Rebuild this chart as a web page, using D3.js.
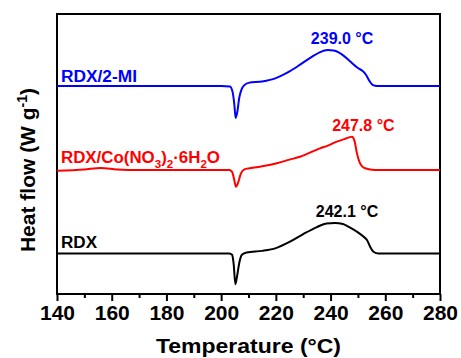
<!DOCTYPE html>
<html>
<head>
<meta charset="utf-8">
<script src="https://cdn.jsdelivr.net/npm/d3@7"></script>
<style>
html,body{margin:0;padding:0;background:#fff;}
svg text{font-family:"Liberation Sans",Arial,Helvetica,sans-serif;font-weight:bold;}
</style>
</head>
<body>
<svg id="chart" width="461" height="358"></svg>
<script>
// ---- data (temperature °C, heat flow in arbitrary offset units) ----
const tempTicks = [140,160,180,200,220,240,260,280];

const blueT = [140,170,200,203.2,204.2,204.8,205.3,205.9,206.6,207.5,208.5,210,215,220,225,229,233,236,239,241,244,247,250,251.9,253,254.2,255.5,257,265,280];
const blueH = [7.43,7.43,7.43,7.41,7.21,6.79,6.29,6.50,7.00,7.32,7.46,7.54,7.59,7.71,7.95,8.20,8.46,8.63,8.71,8.70,8.57,8.32,8.07,7.95,7.82,7.61,7.46,7.43,7.43,7.43];

const redT = [140,150,156,162,170,200,203,204,204.8,205.4,206.2,207.2,208.5,210.5,215,220.4,225,228.8,232,236.1,239,242.3,245,247.8,248.8,249.6,250.7,251.6,252.6,256.2,265,280];
const redH = [4.40,4.45,4.50,4.45,4.43,4.43,4.43,4.36,4.07,3.83,3.98,4.30,4.45,4.49,4.56,4.67,4.80,4.90,5.03,5.20,5.30,5.44,5.53,5.62,5.45,5.04,4.68,4.55,4.49,4.43,4.43,4.43];

const blackT = [140,170,200,203,204,204.6,205.2,205.8,206.6,207.6,209.3,215,220,225,230,235,238.5,241.6,244.5,247,250,252,253.3,254.5,255.8,257.5,265,280];
const blackH = [1.45,1.45,1.45,1.45,1.40,1.05,0.35,0.62,1.10,1.40,1.48,1.54,1.64,1.86,2.14,2.39,2.52,2.54,2.50,2.38,2.20,2.05,1.93,1.68,1.50,1.45,1.45,1.45];

const seriesNames = ["RDX/2-MI","RDX/Co(NO3)2·6H2O","RDX"];
const seriesColors = ["#0000ff","#ff0000","#000000"];
const peakLabels = ["239.0 °C","247.8 °C","242.1 °C"];
const peakLabelT = [244.2,252.0,246.0];
const peakLabelH = [8.93,5.83,2.76];
const nameLabelH = [7.58,4.69,1.66];

// ---- layout ----
const svg = d3.select("#chart");
const margin = {left:57, right:21, top:14, bottom:64};
const W = 461, H = 358;
const x = d3.scaleLinear().domain([140,280]).range([margin.left, W - margin.right]);
const y = d3.scaleLinear().domain([0,10]).range([H - margin.bottom, margin.top]);

// frame
svg.append("rect")
  .attr("x", x(140)).attr("y", y(10))
  .attr("width", x(280)-x(140)).attr("height", y(0)-y(10))
  .attr("fill","none").attr("stroke","#000").attr("stroke-width",2);

// x axis: major ticks
const axis = svg.append("g").attr("transform",`translate(0,${y(0)})`)
  .call(d3.axisBottom(x).tickValues(tempTicks).tickSize(7).tickSizeOuter(0).tickPadding(4).tickFormat(d3.format("d")));
axis.select(".domain").remove();
axis.selectAll(".tick line").attr("stroke","#000").attr("stroke-width",2);
axis.selectAll(".tick text").attr("font-size","21px").attr("fill","#000")
  .attr("font-family","'Liberation Sans',Arial,sans-serif").attr("font-weight","bold");
// minor ticks
const minor = d3.range(150,280,20);
svg.append("g").attr("transform",`translate(0,${y(0)})`)
  .call(d3.axisBottom(x).tickValues(minor).tickSize(4).tickFormat(""))
  .call(g=>{g.select(".domain").remove(); g.selectAll(".tick line").attr("stroke","#000").attr("stroke-width",2);});

// axis titles
svg.append("text").attr("x",(x(140)+x(280))/2).attr("y",353)
  .attr("text-anchor","middle").attr("font-size","21px").attr("fill","#000")
  .attr("textLength",185).attr("lengthAdjust","spacingAndGlyphs")
  .text("Temperature (°C)");

const yl = svg.append("text").attr("transform","translate(35,170) rotate(-90)")
  .attr("text-anchor","middle").attr("font-size","21px").attr("fill","#000");
yl.append("tspan").text("Heat flow (W g");
yl.append("tspan").attr("dy",-8).attr("font-size","14px").text("-1");
yl.append("tspan").attr("dy",8).text(")");

// curves
const line = d3.line().x(d=>x(d[0])).y(d=>y(d[1])).curve(d3.curveMonotoneX);
const series = [
  d3.zip(blueT, blueH),
  d3.zip(redT, redH),
  d3.zip(blackT, blackH)
];
series.forEach((s,i)=>{
  svg.append("path").datum(s).attr("d",line)
    .attr("fill","none").attr("stroke",seriesColors[i]).attr("stroke-width",2);
});

// peak labels
peakLabels.forEach((t,i)=>{
  svg.append("text").attr("x",x(peakLabelT[i])).attr("y",y(peakLabelH[i]))
    .attr("text-anchor","middle").attr("font-size","16px").attr("fill",seriesColors[i])
    .text(t);
});

// series name labels
svg.append("text").attr("x",61).attr("y",y(nameLabelH[0])).attr("font-size","16px").attr("fill",seriesColors[0])
  .attr("textLength",76).attr("lengthAdjust","spacingAndGlyphs").text(seriesNames[0]);

const n1 = svg.append("text").attr("x",61).attr("y",y(nameLabelH[1])).attr("font-size","16px").attr("fill",seriesColors[1])
  .attr("textLength",159).attr("lengthAdjust","spacingAndGlyphs");
n1.append("tspan").text("RDX/Co(NO");
n1.append("tspan").attr("dy",5).attr("font-size","11px").text("3");
n1.append("tspan").attr("dy",-5).text(")");
n1.append("tspan").attr("dy",5).attr("font-size","11px").text("2");
n1.append("tspan").attr("dy",-5).text("·6H");
n1.append("tspan").attr("dy",5).attr("font-size","11px").text("2");
n1.append("tspan").attr("dy",-5).text("O");

svg.append("text").attr("x",61).attr("y",y(nameLabelH[2])).attr("font-size","16px").attr("fill",seriesColors[2])
  .attr("textLength",36).attr("lengthAdjust","spacingAndGlyphs")
  .text(seriesNames[2]);
</script>
</body>
</html>
